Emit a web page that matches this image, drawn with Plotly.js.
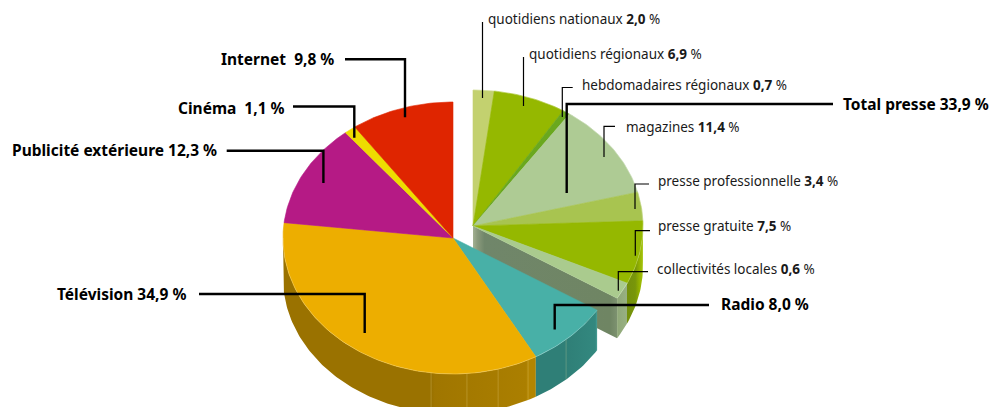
<!DOCTYPE html>
<html><head><meta charset="utf-8">
<script src="https://cdn.plot.ly/plotly-3.0.1.min.js"></script>
<style>html,body{margin:0;padding:0;background:#fff}#c{width:989px;height:407px}</style></head>
<body><div id="c"></div>
<script>
// ---- data ----
const pressNames = ['quotidiens nationaux','quotidiens régionaux','hebdomadaires régionaux','magazines','presse professionnelle','presse gratuite','collectivités locales'];
const pressValues = [2.0,6.9,0.7,11.4,3.4,7.5,0.6];
const pressColors = ['#c3d16f','#95b800','#6aa81e','#aecb94','#a8c450','#95b800','#aacb8e'];
const pressTotalName = 'Total presse';
const pressTotal = 33.9;
const mainNames = ['Radio','Télévision','Publicité extérieure','Cinéma','Internet'];
const mainValues = [8.0,34.9,12.3,1.1,9.8];
const mainColors = ['#48b0a7','#edae00','#b51a85','#eedc00','#df2500'];

// ---- geometry of the tilted disc ----
const RX=170, RY=136, DEPTH=40;
const pressC=[473,226], mainC=[453,238];
const deg=p=>p*3.6;
function pt(c,t,dy){const a=t*Math.PI/180;return [c[0]+RX*Math.sin(a),c[1]-RY*Math.cos(a)+(dy||0)];}
function arc(c,t0,t1,dy){const n=Math.max(2,Math.ceil(Math.abs(t1-t0)));const o=[];for(let i=0;i<=n;i++)o.push(pt(c,t0+(t1-t0)*i/n,dy));return o;}
function tr(points,extra){return Object.assign({type:'scatter',mode:'lines',x:points.map(p=>p[0]),y:points.map(p=>p[1]),hoverinfo:'skip',showlegend:false},extra);}
function poly(points,color,extra){return tr(points.concat([points[0]]),Object.assign({fill:'toself',fillcolor:color,line:{width:0.6,color:color}},extra||{}));}
function grad(points,start,stop,scale){return tr(points.concat([points[0]]),{fill:'toself',fillgradient:{type:'horizontal',start:start,stop:stop,colorscale:scale},line:{width:0}});}
function side(c,t0,t1){return arc(c,t0,t1).concat(arc(c,t1,t0,DEPTH));}

const traces=[];
// press: back faces
const pressEnd=deg(pressTotal);
const pTip=pt(pressC,pressEnd);
traces.push(grad([pressC,pTip,[pTip[0],pTip[1]+DEPTH],[pressC[0],pressC[1]+DEPTH]],pressC[0],pTip[0],
  [[0,'#a3b091'],[0.03,'#8a9a7c'],[0.08,'#70866a'],[0.95,'#6f8563'],[1,'#7d9270']]));
traces.push(grad(side(pressC,pressEnd,88),pTip[0],pressC[0]+RX,
  [[0,'#8fa878'],[0.38,'#98b082'],[0.40,'#74900c'],[0.7,'#78960a'],[0.85,'#93b000'],[1,'#a4c40a']]));
// press: top slices
let cum=0;
pressValues.forEach((v,i)=>{
  const t0=deg(cum);cum+=v;
  // the last drawn wedge closes the group at the printed press total
  const t1=i===pressValues.length-1?pressEnd:deg(cum);
  traces.push(poly([pressC].concat(arc(pressC,t0,t1)),pressColors[i],{name:pressNames[i]}));
});
traces.push(tr(arc(pressC,0,pressEnd),{line:{width:1,color:'rgba(255,255,255,0.18)'}}));

// main: side walls
const radioEnd=pressEnd+deg(mainValues[0]);
const teleEnd=radioEnd+deg(mainValues[1]);
traces.push(grad(side(mainC,radioEnd,Math.min(teleEnd,270)),mainC[0]-RX,pt(mainC,radioEnd)[0],
  [[0,'#9a7200'],[0.59,'#9a7200'],[0.6,'#a07600'],[0.8,'#a67b00'],[0.96,'#ab7f00'],[0.97,'#b38500'],[1,'#b38500']]));
traces.push(grad(side(mainC,pressEnd,radioEnd),pt(mainC,radioEnd)[0],pt(mainC,pressEnd)[0],
  [[0,'#2f7f77'],[0.5,'#2f7f77'],[0.97,'#33887f'],[1,'#4a9f96']]));
// seams on the wall
const seams=[138.3,153.8,164.6,175.3,187.4];
seams.forEach(s=>{const a=pt(mainC,s),b=pt(mainC,s,DEPTH);
  traces.push(tr([a,b],{line:{width:1,color:'rgba(255,235,170,0.22)'}}));});
// main: top slices
let acc=pressTotal;
mainValues.forEach((v,i)=>{
  const t0=deg(acc);acc+=v;
  traces.push(poly([mainC].concat(arc(mainC,t0,deg(acc))),mainColors[i],{name:mainNames[i]}));
});
traces.push(tr(arc(mainC,pressEnd,270),{line:{width:1,color:'rgba(255,255,255,0.2)'}}));

// ---- labels ----
const fmt=v=>v.toFixed(1).replace('.',',');
const BIG='#000', SMALL='#1a1a1a';
const bigFont={family:'"Noto Sans"',size:15.5,color:BIG};
const smallFont={family:'"Noto Sans"',size:13.5,color:SMALL};
function note(x,y,text,anchor,font){return {xref:'x',yref:'y',x:x,y:y,text:text,showarrow:false,xanchor:anchor,yanchor:'middle',font:font,borderpad:0,borderwidth:0};}
const big=(n,v,sep)=>'<b>'+n+(sep||' ')+fmt(v)+' %</b>';
const small=(n,v)=>n+' <b>'+fmt(v)+'</b> %';
const annotations=[
  note(334,59,big(mainNames[4],mainValues[4],'  '),'right',bigFont),
  note(285,107.5,big(mainNames[3],mainValues[3],'  '),'right',bigFont),
  note(217,150,big(mainNames[2],mainValues[2]),'right',bigFont),
  note(186,294,big(mainNames[1],mainValues[1]),'right',bigFont),
  note(843,104,big(pressTotalName,pressTotal),'left',bigFont),
  note(721,304,big(mainNames[0],mainValues[0]),'left',bigFont),
  note(488,19,small(pressNames[0],pressValues[0]),'left',smallFont),
  note(529,54,small(pressNames[1],pressValues[1]),'left',smallFont),
  note(582,85,small(pressNames[2],pressValues[2]),'left',smallFont),
  note(626,127,small(pressNames[3],pressValues[3]),'left',smallFont),
  note(658,181,small(pressNames[4],pressValues[4]),'left',smallFont),
  note(658,226,small(pressNames[5],pressValues[5]),'left',smallFont),
  note(657,269,small(pressNames[6],pressValues[6]),'left',smallFont)
];
function leader(d,w){return {type:'path',xref:'x',yref:'y',path:d,line:{color:'#000',width:w},layer:'above'};}
const shapes=[
  leader('M482.5,22 V98',1.2),
  leader('M523.5,57 V106',1.2),
  leader('M572.7,87.5 H562.3 V117',1.2),
  leader('M615,126.3 H604 V157',1.2),
  leader('M649,184 H635 V209',1.2),
  leader('M650,230.7 H635.3 V255.7',1.2),
  leader('M648,271.7 H618.3 V290.7',1.2),
  leader('M833,104 H566.7 V193',2.4),
  leader('M709,305 H554.7 V329.5',2.4),
  leader('M199,294 H364.7 V333',2.4),
  leader('M226.7,150.7 H323.4 V183',2.4),
  leader('M293,106.5 H354.3 V137.7',2.4),
  leader('M345,59.3 H405 V117.3',2.4)
];
Plotly.newPlot('c',traces,{
  width:989,height:407,margin:{l:0,r:0,t:0,b:0,pad:0},
  paper_bgcolor:'#fff',plot_bgcolor:'#fff',showlegend:false,hovermode:false,
  xaxis:{range:[0,989],visible:false,fixedrange:true},
  yaxis:{range:[407,0],visible:false,fixedrange:true},
  annotations:annotations,shapes:shapes
},{staticPlot:true,displayModeBar:false});
</script></body></html>
